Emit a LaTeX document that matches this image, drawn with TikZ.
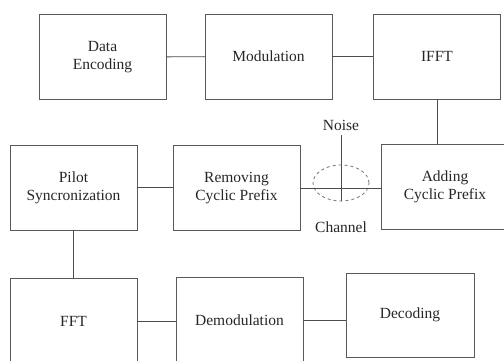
\documentclass[tikz,border=0pt]{standalone}
\usepackage{fontspec}
\setmainfont{Liberation Serif}
\usetikzlibrary{shapes.geometric}

\begin{document}
\begin{tikzpicture}[x=1pt, y=-1pt,
  every node/.style = {font=\fontsize{15.5}{18}\selectfont, text=black!85},
  block/.style = {shape=rectangle, draw=black!65, line width=0.9pt,
    minimum width=127pt, minimum height=85pt, align=center, inner sep=0pt},
  link/.style = {draw=black!70, line width=0.9pt},
 ]
 \clip (0,0) rectangle (504,360);
 \node[block] (enc) at (102.5,57) {Data\\Encoding};
 \node[block] (mod) at (268.5,56.5) {Modulation};
 \node[block] (ifft) at (437,56.5) {IFFT};
 \node[block] (pilot) at (73.5,187.5) {Pilot\\Syncronization};
 \node[block] (rem) at (236.5,188) {Removing\\Cyclic Prefix};
 \node[block, minimum width=128pt] (add) at (445,186.5) {Adding\\Cyclic Prefix};
 \node[block] (fft) at (73.5,321) {FFT};
 \node[block] (dem) at (239.5,320) {Demodulation};
 \node[block, minimum width=128pt, minimum height=84pt] (dec) at (410,315) {Decoding};
 \node[shape=ellipse, draw=black!55, dashed, line width=0.8pt,
   minimum width=56pt, minimum height=36pt, inner sep=0pt] (chan) at (341,183) {};
 \node (noise) at (341,125) {Noise};
 \node (chlabel) at (341,227) {Channel};
 \coordinate (ntop) at (341,135);
 \draw[link] (enc) -- (mod);
 \draw[link] (mod) -- (ifft);
 \draw[link] (ifft.south) -- (ifft.south |- add.north);
 \draw[link] (rem.east) -- (rem.east -| add.west);
 \draw[link] (ntop) -- (chan.south);
 \draw[link] (pilot.east) -- (pilot.east -| rem.west);
 \draw[link] (pilot.south) -- (pilot.south |- fft.north);
 \draw[link] (fft.east) -- (fft.east -| dem.west);
 \draw[link] (dem.east) -- (dem.east -| dec.west);
\end{tikzpicture}
\end{document}
